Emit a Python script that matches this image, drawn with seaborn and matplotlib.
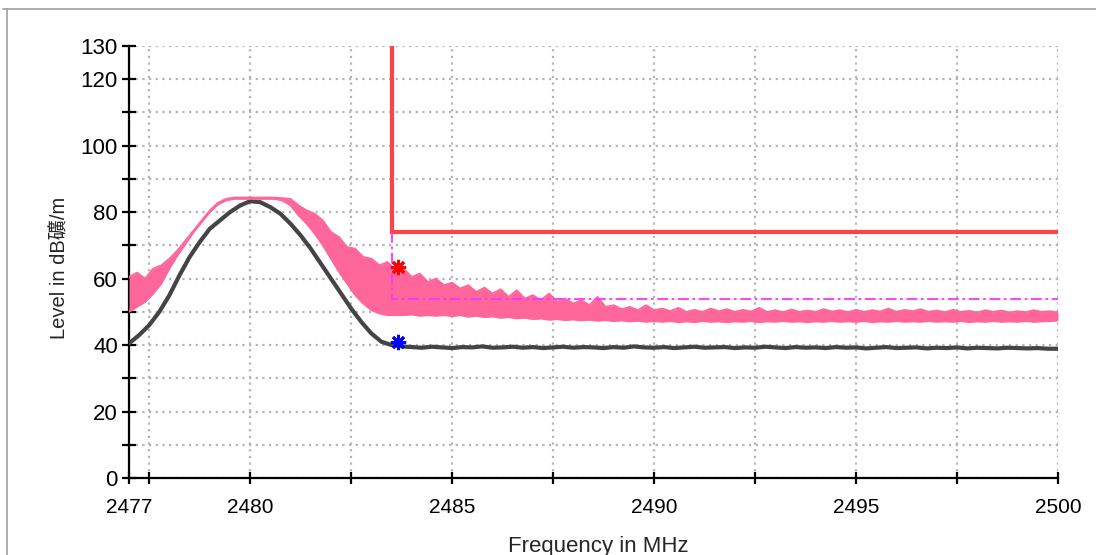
import numpy as np
import matplotlib
matplotlib.use("Agg")
import matplotlib.pyplot as plt
from matplotlib.lines import Line2D
import seaborn as sns

# axis setup (MHz / dB)
x_min, x_max = 2477, 2500
x_major = [2477, 2480, 2485, 2490, 2495, 2500]
x_minor = [2477.5, 2482.5, 2487.5, 2492.5, 2497.5]
y_ticks = list(range(0, 131, 10))
y_labelled = [0, 20, 40, 60, 80, 100, 120, 130]

# average detector trace (dark grey), one reading every 0.25 MHz
avg_freq = np.linspace(2477, 2500, 93)
avg_level = [
    40.5, 43.0, 46.0, 50.0, 55.0, 61.0, 66.5, 71.0, 75.0, 77.5,
    80.0, 82.0, 83.3, 83.0, 81.5, 79.5, 76.5, 73.0, 69.0, 64.5,
    60.0, 55.5, 51.0, 47.0, 43.5, 41.0, 40.0, 39.6,
    39.4, 39.2, 39.5, 39.3, 39.1, 39.4, 39.3, 39.6, 39.2, 39.3,
    39.5, 39.2, 39.4, 39.1, 39.3, 39.5, 39.2, 39.4, 39.3, 39.1,
    39.4, 39.2, 39.6, 39.3, 39.2, 39.4, 39.1, 39.3, 39.5, 39.2,
    39.3, 39.4, 39.1, 39.3, 39.2, 39.5, 39.3, 39.1, 39.4, 39.2,
    39.3, 39.1, 39.4, 39.2, 39.3, 39.0, 39.2, 39.4, 39.1, 39.2,
    39.3, 39.0, 39.2, 39.1, 39.3, 39.0, 39.2, 39.1, 39.0, 39.2,
    39.1, 39.0, 39.1, 38.9, 38.9,
]

# peak detector trace (pink), upper / lower edge every 0.2 MHz
peak_freq = np.linspace(2477, 2500, 116)
peak_upper = [
    60.5, 61.8, 60.0, 63.0, 64.0, 66.0, 68.5, 71.5, 74.5, 77.5,
    80.5, 82.8, 84.0, 84.4, 84.4, 84.4, 84.4, 84.4, 84.4, 84.2,
    84.0, 82.0, 80.5, 79.5, 77.5, 74.0, 72.5, 69.5, 69.0, 66.5,
    66.0, 64.0, 65.0, 62.5, 63.0, 60.5, 61.5, 59.0, 60.0, 58.0,
    58.8, 57.0, 58.0, 56.0, 57.3, 55.5, 56.8, 54.5, 56.5, 54.0,
    55.0, 53.5, 55.5, 53.0, 54.0, 52.5, 53.5, 52.0, 54.5, 51.5,
    52.0, 50.8, 51.5, 50.5, 52.0, 50.5, 51.0, 50.2, 51.2, 50.0,
    50.6, 50.0, 51.0, 50.2, 50.8, 50.0, 50.6, 50.1, 51.2, 50.0,
    50.5, 49.9, 50.7, 50.0, 50.4, 50.0, 50.8, 50.1, 50.5, 49.9,
    50.6, 50.0, 50.5, 50.1, 51.0, 50.0, 50.6, 50.2, 50.8, 50.0,
    50.4, 49.9, 50.6, 50.0, 50.3, 49.8, 50.5, 50.0, 50.4, 49.8,
    50.2, 49.9, 50.5, 50.0, 50.2, 49.8,
]
peak_lower = [
    50.0, 51.5, 53.0, 55.5, 58.5, 63.0, 67.0, 70.5, 74.0, 77.0,
    80.0, 82.3, 83.5, 84.0, 84.0, 84.0, 84.0, 84.0, 84.0, 83.5,
    82.0, 79.0, 76.5, 73.5, 70.0, 66.0, 62.0, 58.5, 55.0, 52.5,
    50.5, 49.5, 49.0, 49.0, 49.0, 49.2, 48.8, 49.0, 48.8, 49.0,
    48.7, 49.0, 48.5, 48.8, 48.4, 48.6, 48.2, 48.4, 48.0, 48.2,
    47.8, 48.0, 47.6, 47.8, 47.5, 47.7, 47.4, 47.6, 47.3, 47.5,
    47.2, 47.4, 47.1, 47.3, 47.0, 47.2, 47.0, 47.2, 46.9, 47.1,
    46.9, 47.2, 47.0, 47.1, 46.9, 47.1, 47.0, 47.2, 46.9, 47.1,
    47.0, 47.2, 47.0, 47.1, 46.9, 47.1, 47.0, 47.2, 47.0, 47.1,
    47.0, 47.2, 46.9, 47.1, 47.0, 47.2, 47.0, 47.1, 47.0, 47.2,
    47.0, 47.1, 47.0, 47.2, 46.9, 47.1, 47.0, 47.2, 47.0, 47.1,
    47.0, 47.2, 47.0, 47.1, 47.2, 47.4,
]

# limit lines
limit_freq = [2483.5, 2483.5, 2500]
limit_level = [130, 74, 74]
avg_limit_freq = [2483.5, 2483.5, 2500]
avg_limit_level = [74, 54, 54]

# markers
marker_freq = 2483.65
marker_peak = 63.4
marker_avg = 41.0

sns.set_style("white")
plt.rcParams["font.family"] = ["Liberation Sans", "Noto Sans CJK JP", "DejaVu Sans"]

fig = plt.figure(figsize=(10.96, 5.55), dpi=100)
ax = fig.add_axes([129 / 1096, 77 / 555, 929 / 1096, 432 / 555])

grid_kw = dict(color="#b4b4b4", linestyle=(0, (1, 2)), linewidth=1.6)
ax.set_axisbelow(True)

pink = "#ff6699"
sns.lineplot(x=avg_freq, y=avg_level, color="#444444", linewidth=3.0, ax=ax, zorder=3)
ax.fill_between(peak_freq, peak_lower, peak_upper, color=pink, linewidth=0, zorder=4)
sns.lineplot(x=peak_freq, y=peak_upper, color=pink, linewidth=1.3, ax=ax, zorder=4)
sns.lineplot(x=peak_freq, y=peak_lower, color=pink, linewidth=1.3, ax=ax, zorder=4)

ax.plot(limit_freq, limit_level, color="#ff4444", linewidth=3.0, zorder=5, solid_joinstyle="miter")
ax.plot(avg_limit_freq, avg_limit_level, color="#ff33ff", linewidth=1.3,
        linestyle=(0, (6, 2, 1.5, 2)), zorder=5)

ax.plot([marker_freq], [marker_peak], marker=(8, 2, 0), color="red",
        markersize=11, markeredgewidth=2, zorder=6)
ax.plot([marker_freq], [marker_avg], marker=(8, 2, 0), color="blue",
        markersize=11, markeredgewidth=2, zorder=6)

ax.set_xlim(x_min, x_max)
ax.set_ylim(0, 130)
ax.set_xticks(x_major)
ax.set_xticks(x_minor, minor=True)
ax.set_xticklabels([str(v) for v in x_major])
ax.set_yticks(y_ticks)
ax.set_yticklabels([str(v) if v in y_labelled else "" for v in y_ticks])

ax.grid(True, which="both", axis="x", **grid_kw)
ax.grid(True, which="major", axis="y", **grid_kw)

for side in ["top", "right"]:
    ax.spines[side].set_visible(False)
for side in ["left", "bottom"]:
    ax.spines[side].set_color("black")
    ax.spines[side].set_linewidth(1.6)

ax.tick_params(axis="y", which="major", direction="inout", length=10, width=1.6,
               pad=3, labelsize=16, colors="black", left=True)
ax.tick_params(axis="x", which="both", direction="inout", length=9, width=1.6,
               pad=10, labelsize=15, colors="black", bottom=True)
ax.set_xlabel("")
ax.set_ylabel("")

fig.text(0.5456, (555 - 536) / 555, "Frequency in MHz", ha="center", va="top", fontsize=16)
fig.text(60 / 1096, (555 - 268) / 555, "Level in dB礦/m", ha="center", va="center",
         rotation=90, fontsize=14.5)

# outer panel frame
fig.add_artist(Line2D([3 / 1096, 1], [1 - 9 / 555, 1 - 9 / 555], color="#a0a0a0", linewidth=1.2))
fig.add_artist(Line2D([7 / 1096, 7 / 1096], [0, 1 - 9 / 555], color="#a0a0a0", linewidth=1.2))

fig.savefig("out.png", dpi=100)
